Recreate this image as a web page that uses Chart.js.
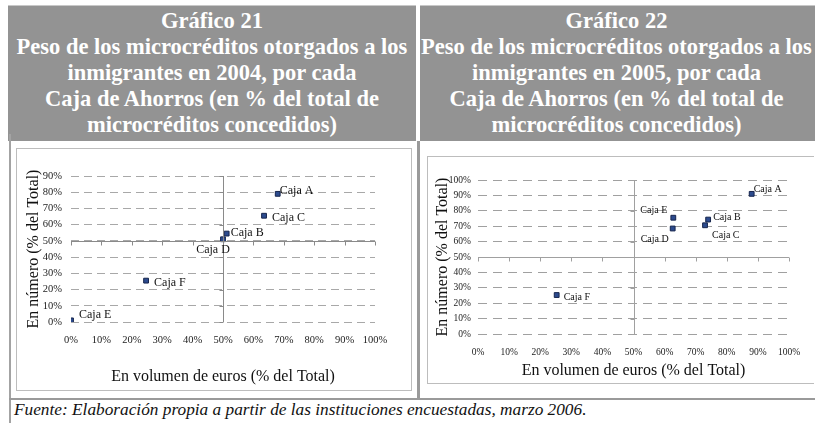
<!doctype html>
<html lang="es">
<head>
<meta charset="UTF-8" />
<title>Gráficos 21 y 22</title>
<script src="https://cdn.jsdelivr.net/npm/chart.js"></script>
<style>
    body { margin: 0; width: 815px; height: 423px; overflow: hidden; background: #fff; position: relative;
           font-family: "Liberation Serif", "DejaVu Serif", serif; }
    .hdr { position: absolute; top: 5px; height: 136px; background: #939393; color: #fff;
           font-weight: bold; font-size: 22.5px; line-height: 26px; text-align: center;
           box-sizing: border-box; padding-top: 2px; border-top: 1px solid #c8c8c8; white-space: nowrap; overflow: hidden; }
    .box { position: absolute; border: 1px solid #bdbdbd; }
    .box canvas { display: block; }
    .vline { position: absolute; background: #a3a3a3; }
    .foot { position: absolute; left: 14px; top: 400px; font-style: italic; font-size: 17.3px; color: #111; }
</style>
</head>
<body>
    <div class="hdr" style="left:8px; width:408px;">Gráfico 21<br>Peso de los microcréditos otorgados a los<br>inmigrantes en 2004, por cada<br>Caja de Ahorros (en % del total de<br>microcréditos concedidos)</div>
    <div class="hdr" style="left:420px; width:395px;"><div style="width:393px">Gráfico 22<br>Peso de los microcréditos otorgados a los<br>inmigrantes en 2005, por cada<br>Caja de Ahorros (en % del total de<br>microcréditos concedidos)</div></div>

    <div class="vline" style="left:9px; top:134px; width:2px; height:289px;"></div>
    <div class="vline" style="left:417px; top:141px; width:3px; height:258px; background:#9a9a9a;"></div>
    <div class="vline" style="left:9px; top:398px; width:806px; height:2px; background:#9a9a9a;"></div>

    <div class="box" style="left:16px; top:148px;"><canvas id="g21" width="394" height="241"></canvas></div>
    <div class="box" style="left:427px; top:156px; border-right:none;"><canvas id="g22" width="386" height="226"></canvas></div>

    <div class="foot">Fuente: Elaboración propia a partir de las instituciones encuestadas, marzo 2006.</div>

<script>
    // data
    const cajas = ['Caja A', 'Caja B', 'Caja C', 'Caja D', 'Caja E', 'Caja F'];

    const vol2004 = [68, 51.2, 63.5, 50, 0, 24.7];
    const num2004 = [79, 54.5, 65.5, 51, 1, 25.5];

    const vol2005 = [88, 74, 73, 62.6, 62.8, 25.3];
    const num2005 = [91, 74.3, 70.6, 68.5, 75.5, 25.3];

    const ticks21 = [0, 10, 20, 30, 40, 50, 60, 70, 80, 90];
    const ticks22 = [0, 10, 20, 30, 40, 50, 60, 70, 80, 90, 100];

    // label placement next to each point: dx, dy, align
    const lbl21 = [[2, -3, 'left'], [4, -1, 'left'], [8, 2, 'left'], [-10, 11, 'center'], [8, -6, 'left'], [8, 2, 'left']];
    const lbl22 = [[2, -4, 'left'], [5, -2, 'left'], [7, 10, 'left'], [-4, 11, 'right'], [-6, -7, 'right'], [7, 2, 'left']];

    const pct = v => v + '%';

    // axis cross at 50% / 50% with small tick marks
    const crossAxes = {
        id: 'crossAxes',
        afterDatasetsDraw(chart, args, o) {
            const { ctx, scales: { x, y }, chartArea } = chart;
            const x50 = Math.round(x.getPixelForValue(50)) + 0.5;
            const y50 = Math.round(y.getPixelForValue(50)) + 0.5;
            ctx.save();
            ctx.strokeStyle = o.color;
            ctx.lineWidth = 1;
            ctx.beginPath();
            ctx.moveTo(chartArea.left, y50); ctx.lineTo(chartArea.right, y50);
            ctx.moveTo(x50, chartArea.top); ctx.lineTo(x50, chartArea.bottom);
            for (let v = 0; v <= 100; v += 10) {
                const px = Math.round(x.getPixelForValue(v)) + 0.5;
                ctx.moveTo(px, y50); ctx.lineTo(px, y50 + 4);
            }
            o.yTicks.forEach(v => {
                const py = Math.round(y.getPixelForValue(v)) + 0.5;
                ctx.moveTo(x50 - 4, py); ctx.lineTo(x50, py);
            });
            ctx.stroke();
            ctx.restore();
        }
    };

    const pointLabels = {
        id: 'pointLabels',
        afterDraw(chart, args, o) {
            const { ctx } = chart;
            const meta = chart.getDatasetMeta(0);
            ctx.save();
            ctx.font = o.size + 'px "Liberation Serif", serif';
            ctx.fillStyle = '#111';
            ctx.textBaseline = 'middle';
            meta.data.forEach((pt, i) => {
                const p = o.pos[i];
                ctx.textAlign = p[2];
                ctx.fillText(cajas[i], pt.x + p[0], pt.y + p[1]);
            });
            ctx.restore();
        }
    };

    function makeChart(id, xs, ys, cfg) {
        const pts = xs.map((v, i) => ({ x: v, y: ys[i] }));
        return new Chart(document.getElementById(id), {
            type: 'scatter',
            data: {
                datasets: [{
                    data: pts,
                    pointStyle: 'rect',
                    pointRadius: 3.4,
                    backgroundColor: '#2c4b8e',
                    borderColor: '#16254d',
                    borderWidth: 1
                }]
            },
            options: {
                responsive: false,
                animation: false,
                events: [],
                layout: { padding: { left: 0, top: cfg.top, right: cfg.right, bottom: 0 } },
                plugins: {
                    legend: { display: false },
                    tooltip: { enabled: false },
                    crossAxes: { color: cfg.axisColor, yTicks: cfg.yTicks },
                    pointLabels: { size: cfg.labelSize, pos: cfg.lbl }
                },
                scales: {
                    x: {
                        type: 'linear', min: 0, max: 100,
                        afterFit: s => { s.height = cfg.xHeight; },
                        ticks: { stepSize: 10, callback: pct, color: '#222', padding: cfg.xPad,
                                 maxRotation: 0, minRotation: 0, autoSkip: false,
                                 font: { family: 'Liberation Serif', size: cfg.tickSize } },
                        grid: { display: false, drawTicks: false },
                        border: { display: false },
                        title: { display: true, text: 'En volumen de euros (% del Total)', color: '#111',
                                 font: { family: 'Liberation Serif', size: 16 }, padding: cfg.xTitlePad }
                    },
                    y: {
                        type: 'linear', min: 0, max: cfg.yMax,
                        afterFit: s => { s.width = cfg.yWidth; },
                        afterBuildTicks: s => { s.ticks = cfg.yTicks.map(v => ({ value: v })); },
                        ticks: { callback: pct, color: '#222', padding: cfg.yPad,
                                 font: { family: 'Liberation Serif', size: cfg.tickSize } },
                        grid: { color: cfg.gridColor, drawTicks: false },
                        border: { display: false, dash: cfg.dash },
                        title: { display: true, text: 'En número (% del Total)', color: '#111',
                                 font: { family: 'Liberation Serif', size: 16 }, padding: cfg.yTitlePad }
                    }
                }
            },
            plugins: [crossAxes, pointLabels]
        });
    }

    Chart.defaults.font.family = 'Liberation Serif';

    makeChart('g21', vol2004, num2004, {
        top: 27, right: 36, yWidth: 54, xHeight: 68, yMax: 90, yTicks: ticks21,
        xPad: 12, yPad: 9, xTitlePad: 4, yTitlePad: 7, tickSize: 10.5, labelSize: 12,
        axisColor: '#8a8a8a', gridColor: '#a8a8a8', dash: [8, 5], lbl: lbl21
    });

    makeChart('g22', vol2005, num2005, {
        top: 23, right: 25, yWidth: 50, xHeight: 49, yMax: 100, yTicks: ticks22,
        xPad: 13, yPad: 7, xTitlePad: 3, yTitlePad: 5, tickSize: 9.5, labelSize: 10,
        axisColor: '#a0a0a0', gridColor: '#a0a0a0', dash: [9, 6], lbl: lbl22
    });
</script>
</body>
</html>
